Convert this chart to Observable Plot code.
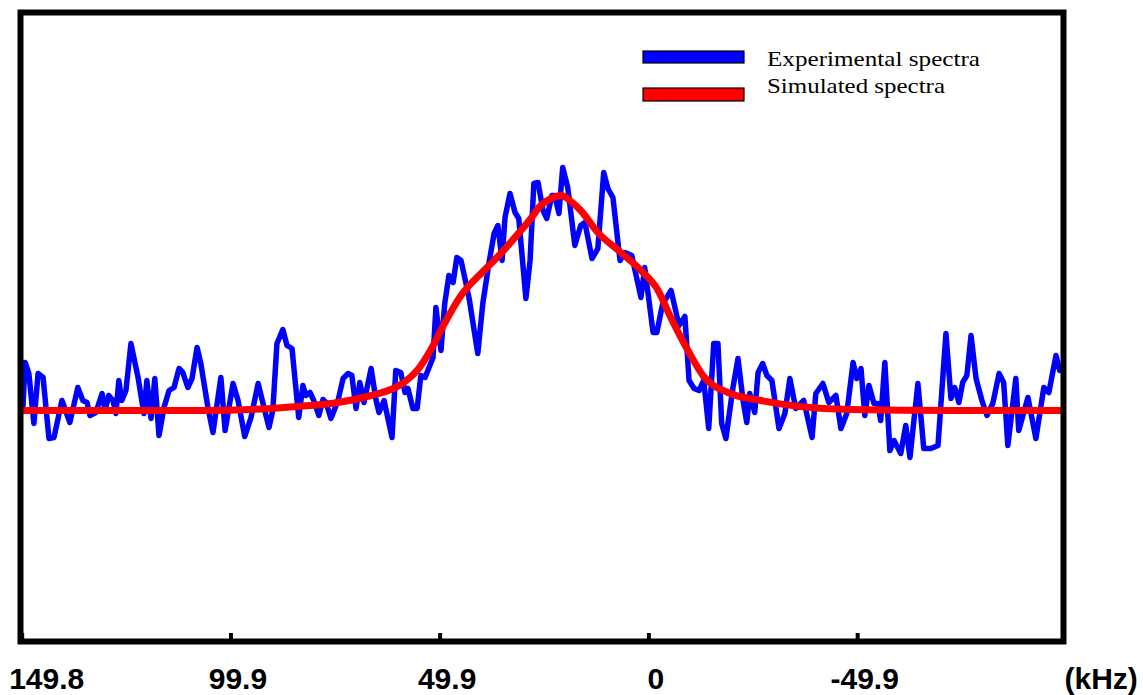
<!DOCTYPE html>
<html><head><meta charset="utf-8">
<script src="https://cdn.jsdelivr.net/npm/d3@7"></script>
<script src="https://cdn.jsdelivr.net/npm/@observablehq/plot@0.6"></script>
<style>
html,body{margin:0;padding:0;background:#fff;}
#chart{position:relative;width:1143px;height:695px;overflow:hidden;}
#chart svg{display:block;}
</style></head><body><div id="chart"></div>
<script>
// Experimental spectrum (frequency in kHz, intensity a.u.)
const expFreq = [
149.6,149.1,148.2,147.0,146.0,144.8,143.4,142.2,140.3,138.4,
136.5,135.3,134.3,133.6,132.2,130.7,130.0,129.1,128.1,127.4,
126.7,126.0,125.0,123.8,122.1,120.7,120.0,119.0,118.1,117.1,
115.9,114.7,113.5,112.3,111.4,110.2,109.2,108.0,107.1,105.4,
104.2,102.3,101.3,99.4,98.2,96.6,95.1,93.4,92.0,90.8,
89.9,88.9,87.5,86.5,85.3,83.7,82.7,82.0,81.0,80.1,
78.9,77.9,77.2,76.0,74.3,73.1,71.9,71.0,70.0,69.1,
68.1,66.4,65.2,64.5,63.3,61.4,60.5,59.3,58.3,57.6,
56.4,55.4,54.5,53.5,51.6,50.9,49.7,48.8,47.8,46.8,
45.9,44.9,43.0,40.9,39.7,38.2,37.0,36.1,35.1,34.4,
33.2,32.0,31.1,29.4,28.4,27.5,26.5,25.3,24.4,23.2,
22.5,21.5,20.6,19.4,17.7,16.3,15.3,13.6,12.2,10.8,
9.8,8.6,6.9,5.7,4.1,1.9,1.0,-1.0,-1.9,-3.3,
-5.3,-7.2,-8.6,-9.6,-10.8,-12.0,-13.1,-14.3,-15.5,-16.5,
-17.4,-18.4,-20.1,-21.3,-22.5,-23.4,-24.1,-25.3,-26.1,-27.2,
-28.2,-29.4,-31.1,-32.5,-33.7,-35.1,-37.0,-39.0,-39.9,-41.6,
-43.0,-44.7,-45.9,-47.3,-48.8,-49.7,-50.7,-51.6,-52.6,-53.8,
-54.7,-55.4,-56.4,-57.6,-58.6,-60.2,-61.4,-62.4,-64.3,-65.7,
-67.4,-69.1,-71.0,-72.2,-73.1,-74.1,-75.0,-76.0,-77.0,-78.2,
-79.6,-80.8,-82.2,-83.7,-84.8,-85.8,-87.7,-88.4,-90.6,-92.5,
-94.4,-95.6,-97.3,-98.2];
const expIntensity = [
0.025,0.24,0.185,-0.065,0.185,0.165,-0.14,-0.135,0.05,-0.06,
0.115,0.05,0.04,-0.025,-0.01,0.085,0,0.075,0.05,-0.015,
0.15,0.05,0.1,0.335,0.165,-0.015,0.15,-0.04,0.16,-0.125,
0.015,0.1,0.115,0.21,0.19,0.115,0.16,0.315,0.235,0.015,
-0.11,0.165,-0.1,0.135,0.05,-0.13,-0.035,0.135,0.015,-0.085,
0,0.335,0.405,0.325,0.31,-0.035,0.125,0.075,0.09,0.05,
-0.025,0.055,0.04,-0.04,0.05,0.16,0.185,0.175,0.01,0.14,
0.04,0.21,0.05,-0.01,0.05,-0.135,0.2,0.19,0.09,0.11,
0.01,0.01,0.175,0.165,0.265,0.515,0.3,0.535,0.675,0.64,
0.765,0.75,0.565,0.285,0.535,0.74,0.885,0.925,0.75,0.965,
1.085,0.99,0.96,0.56,0.75,1.135,1.14,1.0,0.96,1.075,
1.075,0.985,1.215,1.115,0.825,0.925,0.94,0.76,0.81,1.19,
1.11,1.065,0.75,0.79,0.775,0.565,0.715,0.39,0.39,0.535,
0.6,0.425,0.47,0.15,0.11,0.1,0.15,-0.09,0.335,0.335,
-0.065,-0.14,0.115,0.26,0.05,-0.06,0.085,-0.01,0.19,0.235,
0.175,0.15,-0.09,-0.015,0.16,0.01,0.05,-0.135,0.085,0.135,
0.04,0.075,-0.09,-0.015,0.24,0.16,0.21,-0.025,0.125,0.035,
0.035,-0.05,0.24,-0.2,-0.15,-0.215,-0.075,-0.235,0.135,-0.19,
-0.19,-0.175,0.385,0.06,0.115,0.04,0.14,0.175,0.375,0.16,
0.05,-0.025,0.035,0.185,0.14,-0.175,0.16,-0.1,0.065,-0.14,
0.115,0.09,0.275,0.2];

// Simulated spectrum
const simFreq = [149.6,131.0,107.1,90.3,82.5,74.3,66.4,61.7,59.3,57.1,55.2,52.1,49.0,44.9,39.4,35.4,30.6,28.2,26.1,23.4,21.0,18.6,16.3,12.2,6.7,1.9,-2.2,-5.0,-9.6,-13.1,-18.9,-26.8,-36.1,-48.3,-72.2,-98.5];
const simIntensity = [0,0,0,0.01,0.022,0.04,0.075,0.105,0.13,0.165,0.205,0.305,0.43,0.575,0.7,0.785,0.9,0.96,1.02,1.06,1.075,1.045,1.0,0.89,0.79,0.7,0.6,0.475,0.29,0.17,0.09,0.05,0.02,0.005,0,0];

// Axis ticks
const tickValues = [149.8, 99.9, 49.9, 0, -49.9];
const tickLabels = ["149.8", "99.9", "49.9", "0", "-49.9"];
const unitLabel = "(kHz)";

// Legend
const seriesNames = ["Experimental spectra", "Simulated spectra"];
const seriesColors = ["#0000ff", "#ff0000"];

const expData = expFreq.map((f, i) => ({f, v: expIntensity[i]}));
const simData = simFreq.map((f, i) => ({f, v: simIntensity[i]}));
const tickData = tickValues.map((v, i) => ({v, label: tickLabels[i]}));

const labelStyle = {fontSize: 30, fontWeight: "bold", lineAnchor: "bottom", frameAnchor: "bottom", dy: 47};

const plot = Plot.plot({
  width: 1143, height: 695,
  marginLeft: 20, marginRight: 80, marginTop: 12, marginBottom: 54,
  style: {background: "#fff", fontFamily: "'Liberation Sans', Arial, sans-serif", overflow: "visible"},
  x: {domain: [150.2, -99.1], axis: null},
  y: {domain: [-1.155, 1.99], axis: null},
  marks: [
    Plot.line(expData, {x: "f", y: "v", stroke: seriesColors[0], strokeWidth: 5.5, strokeLinejoin: "round", strokeLinecap: "round"}),
    Plot.line(simData, {x: "f", y: "v", stroke: seriesColors[1], strokeWidth: 7, curve: "monotone-x"}),
    Plot.ruleX(tickValues, {stroke: "#000", strokeWidth: 4, insetTop: 621}),
    Plot.frame({stroke: "#000", strokeWidth: 6}),
    Plot.text(tickData.slice(0, 1), {x: "v", text: "label", textAnchor: "start", dx: -13, ariaLabel: "ticklabels", ...labelStyle}),
    Plot.text(tickData.slice(1), {x: "v", text: "label", textAnchor: "middle", dx: 7, ariaLabel: "ticklabels", ...labelStyle}),
    Plot.text([unitLabel], {frameAnchor: "bottom-right", textAnchor: "start", dx: 1, dy: 47, lineAnchor: "bottom", fontSize: 30, fontWeight: "bold", ariaLabel: "ticklabels"})
  ]
});

d3.select(plot).selectAll('g[aria-label="ticklabels"] text').attr("letter-spacing", "0.8px");

// Legend inside the frame (top right)
const svg = d3.select(plot);
const lg = svg.append("g").attr("class", "legend").attr("text-anchor", "start");
const rectY = [51, 88];
const rectH = [12, 13];
const baseY = [66, 93];
const textLen = [213, 178];
seriesNames.forEach((name, i) => {
  lg.append("rect").attr("x", 643).attr("y", rectY[i]).attr("width", 101).attr("height", rectH[i])
    .attr("fill", seriesColors[i]).attr("stroke", "#000").attr("stroke-width", 1.2);
  lg.append("text").attr("x", 767).attr("y", baseY[i])
    .attr("text-anchor", "start")
    .attr("font-family", "'Liberation Serif', 'Times New Roman', serif").attr("font-size", 21)
    .attr("fill", "#000").attr("textLength", textLen[i]).attr("lengthAdjust", "spacingAndGlyphs")
    .text(name);
});

document.getElementById("chart").appendChild(plot);
</script>
</body></html>
